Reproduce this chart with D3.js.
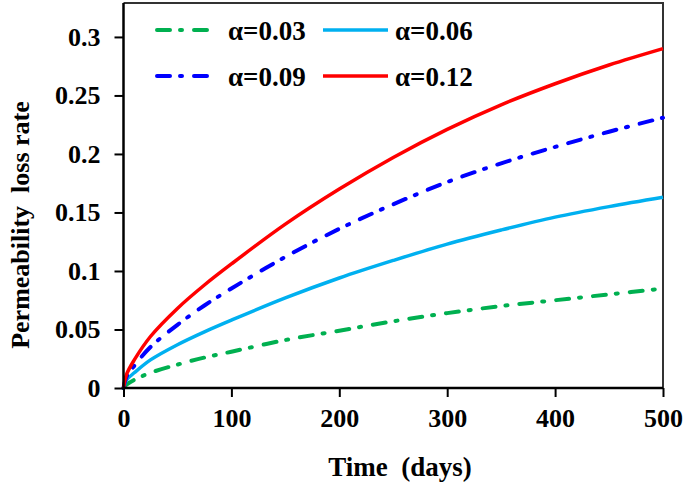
<!DOCTYPE html>
<html><head><meta charset="utf-8">
<script src="https://cdn.jsdelivr.net/npm/d3@7"></script>
<style>body{margin:0;background:#fff}svg{display:block}text{font-family:"Liberation Serif","Times New Roman",serif;font-weight:bold;fill:#000}</style>
</head><body><svg id="c" width="685" height="486"></svg>
<script>
const days = [0, 3, 10, 25, 50, 75, 100, 150, 200, 250, 300, 350, 400, 450, 500];
const alpha003 = [0, 0.003, 0.007, 0.013, 0.020, 0.026, 0.031, 0.041, 0.049, 0.057, 0.064, 0.070, 0.075, 0.080, 0.085];
const alpha006 = [0, 0.007, 0.013, 0.024, 0.037, 0.048, 0.058, 0.077, 0.094, 0.109, 0.123, 0.135, 0.146, 0.155, 0.163];
const alpha009 = [0, 0.010, 0.019, 0.035, 0.054, 0.0705, 0.085, 0.112, 0.136, 0.157, 0.176, 0.192, 0.206, 0.219, 0.231];
const alpha012 = [0, 0.012, 0.024, 0.044, 0.068, 0.088, 0.106, 0.140, 0.170, 0.197, 0.221, 0.242, 0.260, 0.276, 0.290];
const seriesNames = ["α=0.03", "α=0.06", "α=0.09", "α=0.12"];
const xTicks = [0, 100, 200, 300, 400, 500];
const yTicks = [0, 0.05, 0.1, 0.15, 0.2, 0.25, 0.3];
const yTickLabels = ["0", "0.05", "0.1", "0.15", "0.2", "0.25", "0.3"];

const series = [
  {name: seriesNames[0], values: alpha003, color: "#00b050", dash: "13,10,2,12", width: 4},
  {name: seriesNames[1], values: alpha006, color: "#00b0f0", dash: null, width: 3.5},
  {name: seriesNames[2], values: alpha009, color: "#0000ff", dash: "13,10,2,12", width: 4},
  {name: seriesNames[3], values: alpha012, color: "#ff0000", dash: null, width: 3.5}
];

const svg = d3.select("#c");
const L = 123.5, R = 663, T = 3, B = 388;
const x = d3.scaleLinear().domain([0, 500]).range([L, R]);
const y = d3.scaleLinear().domain([0, 0.329]).range([B, T]);

// frame
svg.append("path").attr("d", `M${L},${T}H${R}V${B}`).attr("fill", "none").attr("stroke", "#333").attr("stroke-width", 2);

// lines
const line = d3.line().x(d => x(d[0])).y(d => y(d[1])).curve(d3.curveCatmullRom.alpha(0.5));
series.forEach(s => {
  svg.append("path").datum(days.map((t, i) => [t, s.values[i]]))
    .attr("d", line).attr("fill", "none").attr("stroke", s.color)
    .attr("stroke-width", s.width).attr("stroke-linecap", s.dash ? "round" : "butt")
    .attr("stroke-dasharray", s.dash);
});

// axes
const xAxis = svg.append("g").attr("transform", `translate(0,${B})`)
  .call(d3.axisBottom(x).tickValues(xTicks).tickSize(9).tickPadding(12).tickFormat(d3.format("d")));
const yAxis = svg.append("g").attr("transform", `translate(${L},0)`)
  .call(d3.axisLeft(y).tickValues(yTicks).tickSize(9).tickPadding(14).tickFormat((d, i) => yTickLabels[i]));
[xAxis, yAxis].forEach(a => {
  a.select(".domain").attr("stroke", "#000").attr("stroke-width", 2.5);
  a.selectAll(".tick line").attr("stroke", "#000").attr("stroke-width", 2);
  a.selectAll("text").attr("font-size", 26).attr("font-family", '"Liberation Serif",serif').attr("font-weight", "bold").attr("fill", "#000");
});
yAxis.select(".domain").attr("d", `M0,${B}V${T}`);
xAxis.select(".domain").attr("d", `M${L},0H${R}`);

// titles
svg.append("text").attr("x", 400).attr("y", 476).attr("text-anchor", "middle")
  .attr("font-size", 27).style("white-space", "pre").text("Time  (days)");
svg.append("text").attr("transform", "translate(29,225) rotate(-90)").attr("text-anchor", "middle")
  .attr("font-size", 26).style("white-space", "pre").text("Permeability  loss rate");

// legend
const legPos = [[157, 30], [323, 30], [157, 76], [323, 76]];
series.forEach((s, i) => {
  const [lx, ly] = legPos[i];
  const len = s.dash ? 55 : 65;
  svg.append("line").attr("x1", lx).attr("x2", lx + len).attr("y1", ly).attr("y2", ly)
    .attr("stroke", s.color).attr("stroke-width", s.width)
    .attr("stroke-linecap", s.dash ? "round" : "butt").attr("stroke-dasharray", s.dash ? "13,10,2,12" : null);
  svg.append("text").attr("x", lx + (s.dash ? 71 : 72)).attr("y", ly + 10).attr("font-size", 27).text(s.name);
});
</script></body></html>
